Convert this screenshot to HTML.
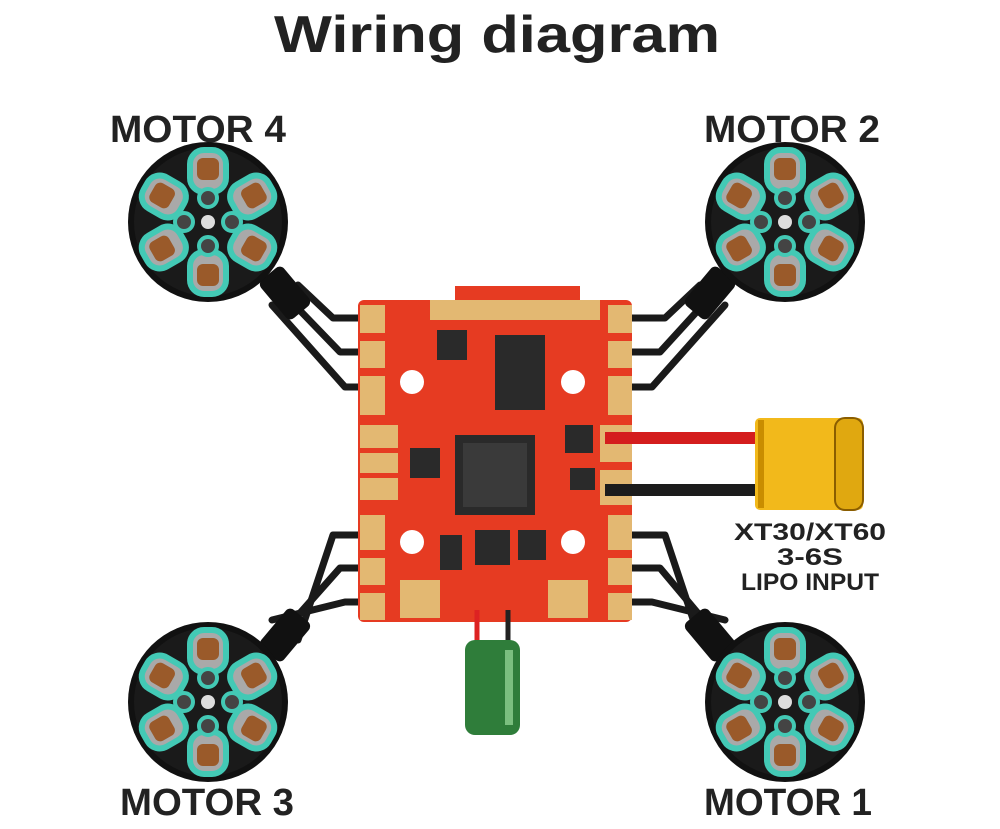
<!DOCTYPE html>
<html><head><style>
html,body{margin:0;padding:0;background:#fff;}
svg{display:block;}
text{font-family:"Liberation Sans",sans-serif;font-weight:bold;fill:#222;}
</style></head><body>
<svg width="1000" height="829" viewBox="0 0 1000 829">
<defs>
<g id="motor">
  <circle r="80" fill="#111"/>
  <circle r="74" fill="#1a1a1a"/>
  <g fill="#a9a9a9" stroke="#43c9b5" stroke-width="6">
    <rect x="-18" y="-72" width="36" height="42" rx="14" transform="rotate(0)"/>
    <rect x="-18" y="-72" width="36" height="42" rx="14" transform="rotate(60)"/>
    <rect x="-18" y="-72" width="36" height="42" rx="14" transform="rotate(120)"/>
    <rect x="-18" y="-72" width="36" height="42" rx="14" transform="rotate(180)"/>
    <rect x="-18" y="-72" width="36" height="42" rx="14" transform="rotate(240)"/>
    <rect x="-18" y="-72" width="36" height="42" rx="14" transform="rotate(300)"/>
  </g>
  <g fill="#9a5a2a">
    <rect x="-11" y="-64" width="22" height="22" rx="6"/>
    <rect x="-11" y="-64" width="22" height="22" rx="6" transform="rotate(60)"/>
    <rect x="-11" y="-64" width="22" height="22" rx="6" transform="rotate(120)"/>
    <rect x="-11" y="-64" width="22" height="22" rx="6" transform="rotate(180)"/>
    <rect x="-11" y="-64" width="22" height="22" rx="6" transform="rotate(240)"/>
    <rect x="-11" y="-64" width="22" height="22" rx="6" transform="rotate(300)"/>
  </g>
  <g fill="#444" stroke="#43c9b5" stroke-width="4">
    <circle cx="0" cy="-24" r="9"/><circle cx="24" cy="0" r="9"/>
    <circle cx="0" cy="24" r="9"/><circle cx="-24" cy="0" r="9"/>
  </g>
  <circle r="7" fill="#ddd"/>
</g>
</defs>

<text x="497" y="52" font-size="52" text-anchor="middle" textLength="446" lengthAdjust="spacingAndGlyphs">Wiring diagram</text>
<text x="110" y="142" font-size="38" textLength="176" lengthAdjust="spacingAndGlyphs">MOTOR 4</text>
<text x="704" y="142" font-size="38" textLength="176" lengthAdjust="spacingAndGlyphs">MOTOR 2</text>
<text x="120" y="815" font-size="38" textLength="174" lengthAdjust="spacingAndGlyphs">MOTOR 3</text>
<text x="704" y="815" font-size="38" textLength="168" lengthAdjust="spacingAndGlyphs">MOTOR 1</text>

<!-- wires -->
<g fill="none" stroke="#1a1a1a" stroke-width="7" stroke-linecap="round" stroke-linejoin="round">
  <path d="M298 285 L333 318 L380 318"/>
  <path d="M285 295 L340 352 L380 352"/>
  <path d="M272 305 L345 387 L380 387"/>
  <path d="M700 285 L665 318 L615 318"/>
  <path d="M712 295 L660 352 L615 352"/>
  <path d="M725 305 L652 387 L615 387"/>
  <path d="M298 640 L333 535 L380 535"/>
  <path d="M285 630 L340 568 L380 568"/>
  <path d="M272 620 L345 602 L380 602"/>
  <path d="M700 640 L665 535 L615 535"/>
  <path d="M712 630 L660 568 L615 568"/>
  <path d="M725 620 L652 602 L615 602"/>
</g>
<rect x="270" y="268" width="30" height="50" rx="6" fill="#111" transform="rotate(-40 285 293)"/>
<rect x="695" y="268" width="30" height="50" rx="6" fill="#111" transform="rotate(40 710 293)"/>
<rect x="270" y="610" width="30" height="50" rx="6" fill="#111" transform="rotate(40 285 635)"/>
<rect x="695" y="610" width="30" height="50" rx="6" fill="#111" transform="rotate(-40 710 635)"/>

<use href="#motor" x="208" y="222"/>
<use href="#motor" x="785" y="222"/>
<use href="#motor" x="208" y="702"/>
<use href="#motor" x="785" y="702"/>

<!-- board -->
<rect x="455" y="286" width="125" height="20" fill="#e63b22"/>
<rect x="358" y="300" width="274" height="322" rx="6" fill="#e63b22"/>
<g fill="#e3b872">
  <rect x="360" y="305" width="25" height="110"/>
  <rect x="608" y="305" width="24" height="110"/>
  <rect x="360" y="515" width="25" height="105"/>
  <rect x="608" y="515" width="24" height="105"/>
  <rect x="360" y="425" width="38" height="75"/>
  <rect x="600" y="425" width="32" height="80"/>
  <rect x="400" y="580" width="40" height="38"/>
  <rect x="548" y="580" width="40" height="38"/>
  <rect x="430" y="300" width="170" height="20"/>
</g>
<g fill="#e63b22">
  <rect x="360" y="333" width="25" height="8"/><rect x="360" y="368" width="25" height="8"/>
  <rect x="608" y="333" width="24" height="8"/><rect x="608" y="368" width="24" height="8"/>
  <rect x="360" y="550" width="25" height="8"/><rect x="360" y="585" width="25" height="8"/>
  <rect x="608" y="550" width="24" height="8"/><rect x="608" y="585" width="24" height="8"/>
  <rect x="360" y="448" width="38" height="5"/><rect x="360" y="473" width="38" height="5"/>
  <rect x="600" y="462" width="32" height="8"/>
</g>
<g fill="#fff">
  <circle cx="412" cy="382" r="12"/><circle cx="573" cy="382" r="12"/>
  <circle cx="412" cy="542" r="12"/><circle cx="573" cy="542" r="12"/>
</g>
<g fill="#2a2a2a">
  <rect x="455" y="435" width="80" height="80"/>
  <rect x="495" y="335" width="50" height="75"/>
  <rect x="437" y="330" width="30" height="30"/>
  <rect x="410" y="448" width="30" height="30"/>
  <rect x="565" y="425" width="28" height="28"/>
  <rect x="440" y="535" width="22" height="35"/>
  <rect x="475" y="530" width="35" height="35"/>
  <rect x="518" y="530" width="28" height="30"/>
  <rect x="570" y="468" width="25" height="22"/>
</g>
<rect x="463" y="443" width="64" height="64" fill="#3a3a3a"/>

<!-- capacitor -->
<line x1="477" y1="610" x2="477" y2="645" stroke="#d22" stroke-width="5"/>
<line x1="508" y1="610" x2="508" y2="645" stroke="#222" stroke-width="5"/>
<rect x="465" y="640" width="55" height="95" rx="10" fill="#2f7d3a"/>
<rect x="505" y="650" width="8" height="75" fill="#7bbf7f"/>

<!-- battery wires & XT -->
<line x1="605" y1="438" x2="765" y2="438" stroke="#d41d1d" stroke-width="12"/>
<line x1="605" y1="490" x2="765" y2="490" stroke="#1c1c1c" stroke-width="12"/>
<rect x="755" y="418" width="108" height="92" rx="5" fill="#f2b91b"/>
<rect x="835" y="418" width="28" height="92" rx="10" fill="#e0a810" stroke="#8a5d00" stroke-width="2"/>
<rect x="758" y="420" width="6" height="88" fill="#c98d00"/>

<text x="810" y="540" font-size="24" text-anchor="middle" textLength="152" lengthAdjust="spacingAndGlyphs">XT30/XT60</text>
<text x="810" y="565" font-size="24" text-anchor="middle" textLength="66" lengthAdjust="spacingAndGlyphs">3-6S</text>
<text x="810" y="590" font-size="24" text-anchor="middle" textLength="138" lengthAdjust="spacingAndGlyphs">LIPO INPUT</text>
</svg>
</body></html>
